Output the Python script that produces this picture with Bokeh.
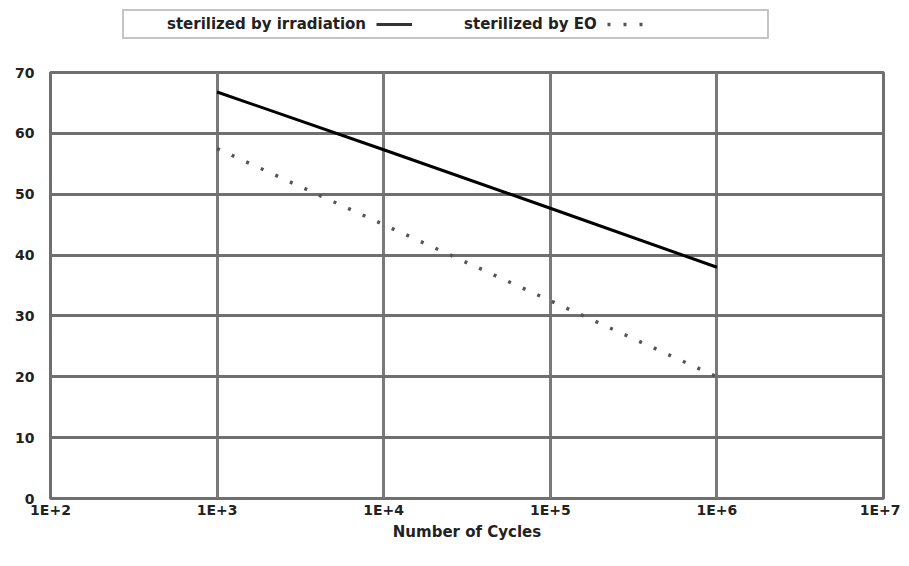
from bokeh.plotting import figure
from bokeh.layouts import column
from bokeh.models import FixedTicker, Legend, LegendItem
from bokeh.embed import file_html
from bokeh.resources import INLINE

# ---- data ----
cycles = [1e3, 1e4, 1e5, 1e6]
irradiation = [66.8, 57.3, 47.7, 38.0]
eo = [57.5, 45.0, 32.5, 20.0]
x_ticks = [1e2, 1e3, 1e4, 1e5, 1e6, 1e7]
x_tick_labels = ["1E+2", "1E+3", "1E+4", "1E+5", "1E+6", "1E+7"]
y_ticks = [0, 10, 20, 30, 40, 50, 60, 70]
series_names = ["sterilized by irradiation", "sterilized by EO"]
x_title = "Number of Cycles"

FONT = "DejaVu Sans"
GRID = "#6f6f6f"
TEXT = "#222222"
IRR_STYLE = dict(line_color="black", line_width=3)
EO_STYLE = dict(line_color="#555555", line_width=3.5, line_dash="3 13")

W = 900
LEG_H = 58

# ---- main chart ----
p = figure(width=W, height=560 - LEG_H, x_axis_type="log",
           x_range=(1e2, 1e7), y_range=(0, 70),
           output_backend="svg", toolbar_location=None,
           min_border_left=50, min_border_right=17,
           min_border_top=72 - LEG_H, min_border_bottom=62)

p.outline_line_color = GRID
p.outline_line_width = 3
p.background_fill_color = "white"
p.border_fill_color = "white"

p.xaxis.ticker = FixedTicker(ticks=x_ticks)
p.xaxis.major_label_overrides = {t: l for t, l in zip(x_ticks, x_tick_labels)}
p.yaxis.ticker = FixedTicker(ticks=y_ticks)

for ax in (p.xaxis, p.yaxis):
    ax.axis_line_color = None
    ax.major_tick_line_color = None
    ax.minor_tick_line_color = None
    ax.major_tick_out = 0
    ax.major_tick_in = 0
    ax.major_label_text_font = FONT
    ax.major_label_text_font_style = "bold"
    ax.major_label_text_font_size = "14px"
    ax.major_label_text_color = TEXT
p.xaxis.major_label_standoff = 3
p.yaxis.major_label_standoff = 16
p.xaxis.axis_label = x_title
p.xaxis.axis_label_text_font = FONT
p.xaxis.axis_label_text_font_style = "bold"
p.xaxis.axis_label_text_font_size = "15px"
p.xaxis.axis_label_text_color = TEXT
p.xaxis.axis_label_standoff = 2

p.xgrid.ticker = FixedTicker(ticks=x_ticks)
p.ygrid.ticker = FixedTicker(ticks=y_ticks)
p.xgrid.grid_line_color = "#7a7a7a"
p.xgrid.grid_line_width = 3
p.ygrid.grid_line_color = GRID
p.ygrid.grid_line_width = 3
p.xgrid.minor_grid_line_color = None

p.line(cycles, irradiation, **IRR_STYLE)
p.line(cycles, eo, **EO_STYLE)

# ---- legend strip (label followed by its sample, as in the original) ----
lf = figure(width=W, height=LEG_H, output_backend="svg", toolbar_location=None,
            x_axis_location=None, y_axis_location=None, min_border=0)
lf.outline_line_color = None
lf.grid.visible = False
l_irr = lf.line(cycles, irradiation, visible=False,
                line_color="#333333", line_width=3)
l_eo = lf.line(cycles, eo, visible=False, **EO_STYLE)
l_blank = lf.line(cycles, eo, visible=False, line_alpha=0)

legend = Legend(items=[
    LegendItem(label=series_names[0], renderers=[l_blank]),
    LegendItem(label="", renderers=[l_irr]),
    LegendItem(label=series_names[1], renderers=[l_blank]),
    LegendItem(label="", renderers=[l_eo]),
    LegendItem(label="\u00a0" * 13, renderers=[l_blank]),
], orientation="horizontal", location=(72, LEG_H - 39))
legend.click_policy = "none"
legend.inactive_fill_alpha = 0
legend.glyph_width = 36
legend.glyph_height = 16
legend.label_height = 16
legend.label_width = 0
legend.label_standoff = 3
legend.spacing = 10
legend.padding = 4
legend.margin = 0
legend.border_line_color = "#8a8a8a"
legend.border_line_width = 2
legend.background_fill_color = "white"
legend.background_fill_alpha = 1.0
legend.label_text_font = FONT
legend.label_text_font_style = "bold"
legend.label_text_font_size = "15px"
legend.label_text_color = TEXT
lf.add_layout(legend)

layout = column(lf, p, spacing=0)
open("out.html", "w").write(file_html(layout, INLINE))
